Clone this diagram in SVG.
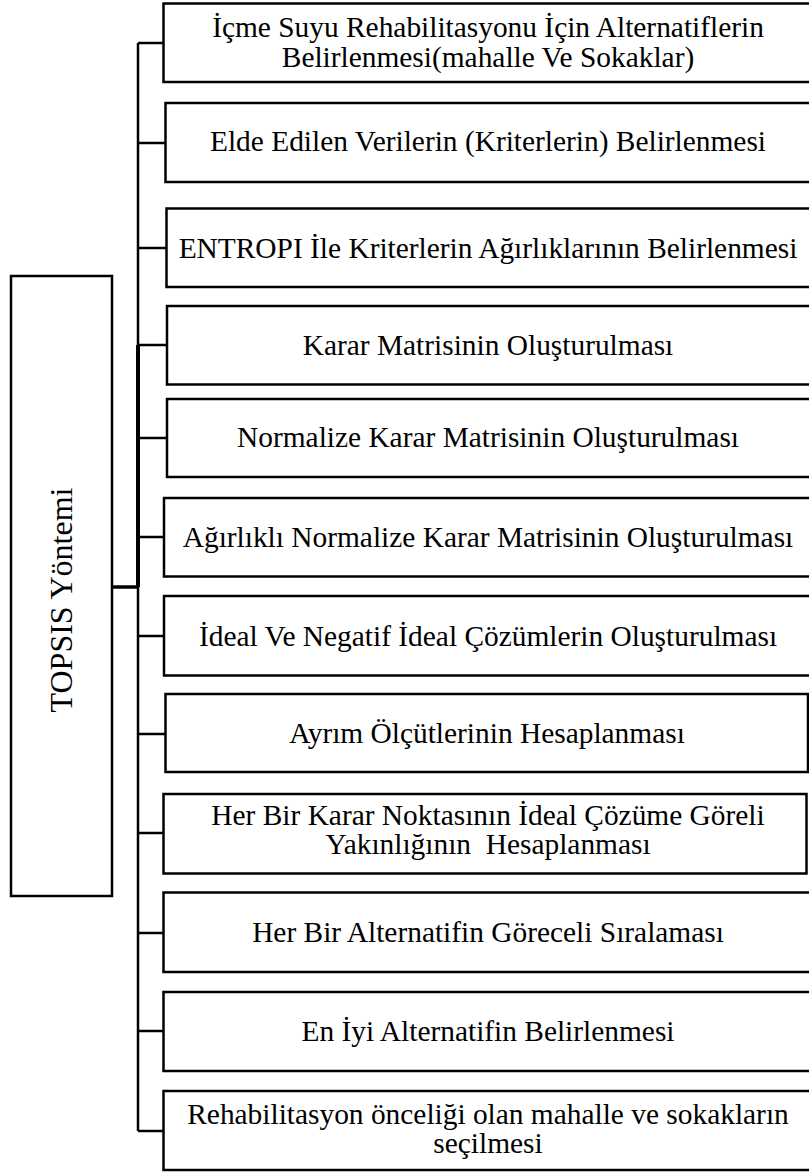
<svg xmlns="http://www.w3.org/2000/svg" width="809" height="1172" viewBox="0 0 809 1172">
  <style>
    .box { fill: #fff; stroke: #000; stroke-width: 2.5; }
    .lbl { font-family: "Liberation Serif", "Times New Roman", serif; font-size: 29.4px; fill: #000; text-anchor: middle; }
    .root { font-family: "Liberation Serif", "Times New Roman", serif; font-size: 32px; fill: #000; text-anchor: middle; }
    .wire { stroke: #000; stroke-width: 2.5; fill: none; }
  </style>
  <rect width="809" height="1172" fill="#fff"/>

  <!-- connectors -->
  <g id="connectors">
    <line class="wire" x1="138" y1="43" x2="138" y2="1131"/>
    <line class="wire" x1="138" y1="345" x2="138" y2="587" style="stroke-width:4"/>
    <line class="wire" x1="112" y1="587" x2="138" y2="587" style="stroke-width:3.5"/>
    <line class="wire" x1="138" y1="43" x2="164" y2="43"/>
    <line class="wire" x1="138" y1="143" x2="165" y2="143"/>
    <line class="wire" x1="138" y1="248" x2="166" y2="248"/>
    <line class="wire" x1="138" y1="345" x2="167" y2="345"/>
    <line class="wire" x1="138" y1="438" x2="167" y2="438"/>
    <line class="wire" x1="138" y1="537" x2="164" y2="537"/>
    <line class="wire" x1="138" y1="636" x2="164" y2="636"/>
    <line class="wire" x1="138" y1="734" x2="165" y2="734"/>
    <line class="wire" x1="138" y1="833" x2="164" y2="833"/>
    <line class="wire" x1="138" y1="933" x2="164" y2="933"/>
    <line class="wire" x1="138" y1="1031" x2="164" y2="1031"/>
    <line class="wire" x1="138" y1="1131" x2="164" y2="1131"/>
  </g>

  <!-- root node -->
  <g id="topsis">
    <rect class="box" x="11" y="276" width="101" height="620"/>
    <text class="root" transform="translate(72,600) rotate(-90)">TOPSIS Yöntemi</text>
  </g>

  <!-- steps -->
  <g id="step1">
    <rect class="box" x="163.5" y="3.5" width="650" height="78.5"/>
    <text class="lbl" x="488" y="36.7">İçme Suyu Rehabilitasyonu İçin Alternatiflerin</text>
    <text class="lbl" x="488" y="66.7">Belirlenmesi(mahalle Ve Sokaklar)</text>
  </g>
  <g id="step2">
    <rect class="box" x="165.5" y="103" width="650" height="79"/>
    <text class="lbl" x="488" y="151">Elde Edilen Verilerin (Kriterlerin) Belirlenmesi</text>
  </g>
  <g id="step3">
    <rect class="box" x="166.5" y="208.5" width="650" height="78.5"/>
    <text class="lbl" x="488" y="257.5">ENTROPI İle Kriterlerin Ağırlıklarının Belirlenmesi</text>
  </g>
  <g id="step4">
    <rect class="box" x="167" y="306" width="650" height="78.5"/>
    <text class="lbl" x="488" y="355">Karar Matrisinin Oluşturulması</text>
  </g>
  <g id="step5">
    <rect class="box" x="167" y="399" width="650" height="78"/>
    <text class="lbl" x="488" y="447">Normalize Karar Matrisinin Oluşturulması</text>
  </g>
  <g id="step6">
    <rect class="box" x="164" y="498" width="650" height="78.5"/>
    <text class="lbl" x="488" y="547">Ağırlıklı Normalize Karar Matrisinin Oluşturulması</text>
  </g>
  <g id="step7">
    <rect class="box" x="164" y="596" width="650" height="79.5"/>
    <text class="lbl" x="488" y="645.5">İdeal Ve Negatif İdeal Çözümlerin Oluşturulması</text>
  </g>
  <g id="step8">
    <rect class="box" x="165.5" y="694" width="642.5" height="78"/>
    <text class="lbl" x="487" y="743">Ayrım Ölçütlerinin Hesaplanması</text>
  </g>
  <g id="step9">
    <rect class="box" x="163.5" y="794" width="643" height="79.5"/>
    <text class="lbl" x="488" y="825">Her Bir Karar Noktasının İdeal Çözüme Göreli</text>
    <text class="lbl" x="488" y="854" xml:space="preserve">Yakınlığının  Hesaplanması</text>
  </g>
  <g id="step10">
    <rect class="box" x="163.5" y="892.5" width="650" height="79.5"/>
    <text class="lbl" x="488" y="942">Her Bir Alternatifin Göreceli Sıralaması</text>
  </g>
  <g id="step11">
    <rect class="box" x="163.5" y="992" width="650" height="79"/>
    <text class="lbl" x="488" y="1041">En İyi Alternatifin Belirlenmesi</text>
  </g>
  <g id="step12">
    <rect class="box" x="163.5" y="1091" width="650" height="79"/>
    <text class="lbl" x="488" y="1124">Rehabilitasyon önceliği olan mahalle ve sokakların</text>
    <text class="lbl" x="488" y="1153">seçilmesi</text>
  </g>
</svg>
